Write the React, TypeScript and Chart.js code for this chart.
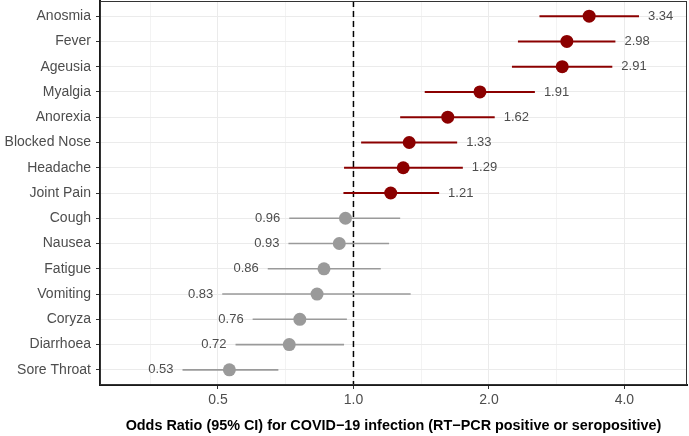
import React, { useEffect, useRef } from "react";
import { Chart, registerables } from "chart.js";

Chart.register(...registerables);

const categories = [
  "Anosmia", "Fever", "Ageusia", "Myalgia", "Anorexia", "Blocked Nose", "Headache",
  "Joint Pain", "Cough", "Nausea", "Fatigue", "Vomiting", "Coryza", "Diarrhoea", "Sore Throat",
];
const oddsRatios = [3.34, 2.98, 2.91, 1.91, 1.62, 1.33, 1.29, 1.21, 0.96, 0.93, 0.86, 0.83, 0.76, 0.72, 0.53];
const ciLower = [2.59, 2.32, 2.25, 1.44, 1.27, 1.04, 0.953, 0.95, 0.72, 0.717, 0.645, 0.511, 0.597, 0.547, 0.417];
const ciUpper = [4.31, 3.82, 3.76, 2.53, 2.06, 1.7, 1.75, 1.55, 1.27, 1.2, 1.15, 1.34, 0.967, 0.953, 0.681];
const orLabels = ["3.34", "2.98", "2.91", "1.91", "1.62", "1.33", "1.29", "1.21", "0.96", "0.93", "0.86", "0.83", "0.76", "0.72", "0.53"];
const xTickValues = [0.35355, 0.5, 0.70711, 1, 1.41421, 2, 2.82843, 4];
const xTickLabels = ["", "0.5", "", "1.0", "", "2.0", "", "4.0"];
const referenceLine = 1;

const RED = "#8B0000";
const GREY = "#9a9a9a";
const FONT = "'Liberation Sans', Arial, Helvetica, sans-serif";

export default function App() {
  const ref = useRef<HTMLCanvasElement | null>(null);

  useEffect(() => {
    const canvas = ref.current;
    if (!canvas) return;
    const rows = categories.map((_, i) => i + 1);
    const isUp = (i: number) => oddsRatios[i] > 1;

    const ciDatasets = categories.map((c, i) => ({
      type: "scatter" as const,
      label: "ci-" + c,
      data: [
        { x: ciLower[i], y: rows[i] },
        { x: ciUpper[i], y: rows[i] },
      ],
      showLine: true,
      borderColor: isUp(i) ? RED : GREY,
      borderWidth: isUp(i) ? 2 : 1.6,
      pointRadius: 0,
    }));

    const labelPlugin = {
      id: "valueLabels",
      afterDatasetsDraw(chart: any) {
        const { ctx, scales } = chart;
        const xs = scales.x;
        const ys = scales.y;
        ctx.save();
        ctx.font = `13px ${FONT}`;
        ctx.fillStyle = "#4d4d4d";
        ctx.textBaseline = "middle";
        categories.forEach((_, i) => {
          const y = ys.getPixelForValue(rows[i]);
          if (isUp(i)) {
            ctx.textAlign = "left";
            ctx.fillText(orLabels[i], xs.getPixelForValue(ciUpper[i]) + 9, y);
          } else {
            ctx.textAlign = "right";
            ctx.fillText(orLabels[i], xs.getPixelForValue(ciLower[i]) - 9, y);
          }
        });
        ctx.restore();
      },
      afterDraw(chart: any) {
        const { ctx, chartArea } = chart;
        ctx.save();
        ctx.strokeStyle = "#333333";
        ctx.lineWidth = 1;
        ctx.strokeRect(chartArea.left + 0.5, chartArea.top + 0.5, chartArea.right - chartArea.left - 1, chartArea.bottom - chartArea.top - 1);
        ctx.restore();
      },
    };

    const chart = new Chart(canvas, {
      type: "scatter",
      data: {
        datasets: [
          {
            label: "up",
            data: categories.map((_, i) => (isUp(i) ? { x: oddsRatios[i], y: rows[i] } : null)).filter(Boolean) as any,
            backgroundColor: RED,
            borderWidth: 0,
            pointRadius: 6.5,
          },
          {
            label: "down",
            data: categories.map((_, i) => (!isUp(i) ? { x: oddsRatios[i], y: rows[i] } : null)).filter(Boolean) as any,
            backgroundColor: GREY,
            borderWidth: 0,
            pointRadius: 6.5,
          },
          ...ciDatasets,
          {
            label: "ref",
            data: [
              { x: referenceLine, y: 0.4 },
              { x: referenceLine, y: 15.6 },
            ],
            showLine: true,
            borderColor: "#000000",
            borderWidth: 1.5,
            borderDash: [6, 4],
            pointRadius: 0,
          },
        ],
      },
      options: {
        animation: false,
        responsive: false,
        devicePixelRatio: 1,
        layout: { autoPadding: false, padding: { top: 1, right: 2, left: 0, bottom: 0 } },
        plugins: { legend: { display: false }, tooltip: { enabled: false } },
        scales: {
          x: {
            type: "logarithmic",
            min: 0.2734,
            max: 5.51,
            bounds: "data",
            afterBuildTicks: (s: any) => {
              s.ticks = xTickValues.map((v) => ({ value: v }));
            },
            afterFit: (s: any) => {
              s.height = 51;
              s.paddingLeft = 0;
              s.paddingRight = 0;
            },
            ticks: {
              autoSkip: false,
              maxRotation: 0,
              padding: 3,
              color: "#4d4d4d",
              font: { family: FONT, size: 14 },
              callback: (_v: any, idx: number) => xTickLabels[idx],
            },
            grid: {
              color: (c: any) => (xTickLabels[c.index] ? "#ebebeb" : "#f3f3f3"),
              lineWidth: 1,
              tickLength: 4,
              tickColor: (c: any) => (xTickLabels[c.index] ? "#333333" : "rgba(0,0,0,0)"),
            },
            border: { color: "#1a1a1a", width: 2 },
            title: {
              display: true,
              text: "Odds Ratio (95% CI) for COVID\u221219 infection (RT\u2212PCR positive or seropositive)",
              color: "#000000",
              font: { family: FONT, size: 14.4, weight: "bold" },
              padding: { top: 0, bottom: 1 },
            },
          },
          y: {
            type: "linear",
            min: 0.4,
            max: 15.6,
            reverse: true,
            afterBuildTicks: (s: any) => {
              s.ticks = rows.map((v) => ({ value: v }));
            },
            afterFit: (s: any) => {
              s.width = 100;
              s.paddingTop = 0;
              s.paddingBottom = 0;
            },
            ticks: {
              autoSkip: false,
              padding: 5,
              color: "#4d4d4d",
              font: { family: FONT, size: 14 },
              callback: (_v: any, idx: number) => categories[idx],
            },
            grid: {
              color: "#ebebeb",
              lineWidth: 1,
              tickLength: 4,
              tickColor: "#333333",
            },
            border: { color: "#1a1a1a", width: 2 },
          },
        },
      },
      plugins: [labelPlugin],
    } as any);

    return () => chart.destroy();
  }, []);

  return (
    <div style={{ position: "fixed", left: 0, top: 0, width: 689, height: 436, background: "#ffffff" }}>
      <canvas ref={ref} width={689} height={436} style={{ width: 689, height: 436, display: "block" }} />
    </div>
  );
}
